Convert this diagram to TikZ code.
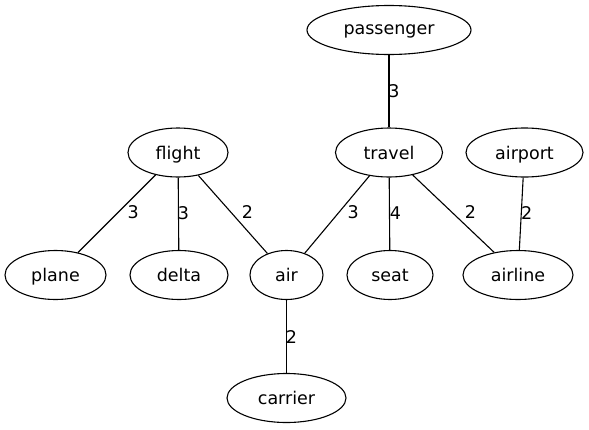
\documentclass[tikz,border=0pt]{standalone}
\usepackage{fontspec}
\setmainfont{DejaVu Sans}
\usetikzlibrary{shapes.geometric}
\begin{document}
\begin{tikzpicture}[x=1pt,y=-1pt,
  every node/.style={font=\fontsize{17.5}{21}\selectfont},
  vert/.style={draw, ellipse, line width=1.1pt, inner sep=0pt, minimum height=49pt, text depth=0pt},
  edge/.style={line width=1.1pt},
  lbl/.style={inner sep=0pt, pos=0.5}]
\useasboundingbox (0,0) rectangle (589,429);
\node[vert, minimum width=164pt] (passenger) at (389,30) {passenger};
\node[vert, minimum width=100pt] (flight) at (178,152.5) {flight};
\node[vert, minimum width=107pt] (travel) at (389,152.5) {travel};
\node[vert, minimum width=117pt] (airport) at (524.5,152.5) {airport};
\node[vert, minimum width=101pt] (plane) at (55.5,275) {plane};
\node[vert, minimum width=98pt] (delta) at (179,275) {delta};
\node[vert, minimum width=73pt] (air) at (286.5,275) {air};
\node[vert, minimum width=86pt] (seat) at (390,275) {seat};
\node[vert, minimum width=110pt] (airline) at (518,275) {airline};
\node[vert, minimum width=119pt] (carrier) at (286.5,398) {carrier};
\draw[edge] (passenger) -- node[lbl, xshift=5pt] {3} (travel);
\draw[edge] (flight) -- node[lbl, xshift=16.5pt, yshift=2pt] {3} (plane);
\draw[edge] (flight) -- node[lbl, xshift=5pt, yshift=1pt] {3} (delta);
\draw[edge] (flight) -- node[lbl, xshift=14.5pt, yshift=2pt] {2} (air);
\draw[edge] (travel) -- node[lbl, xshift=16pt, yshift=2pt] {3} (air);
\draw[edge] (travel) -- node[lbl, xshift=6pt, yshift=1pt] {4} (seat);
\draw[edge] (travel) -- node[lbl, xshift=17pt, yshift=2pt] {2} (airline);
\draw[edge] (airport) -- node[lbl, xshift=5.5pt, yshift=1pt] {2} (airline);
\draw[edge] (air) -- node[lbl, xshift=5pt] {2} (carrier);
\end{tikzpicture}
\end{document}
